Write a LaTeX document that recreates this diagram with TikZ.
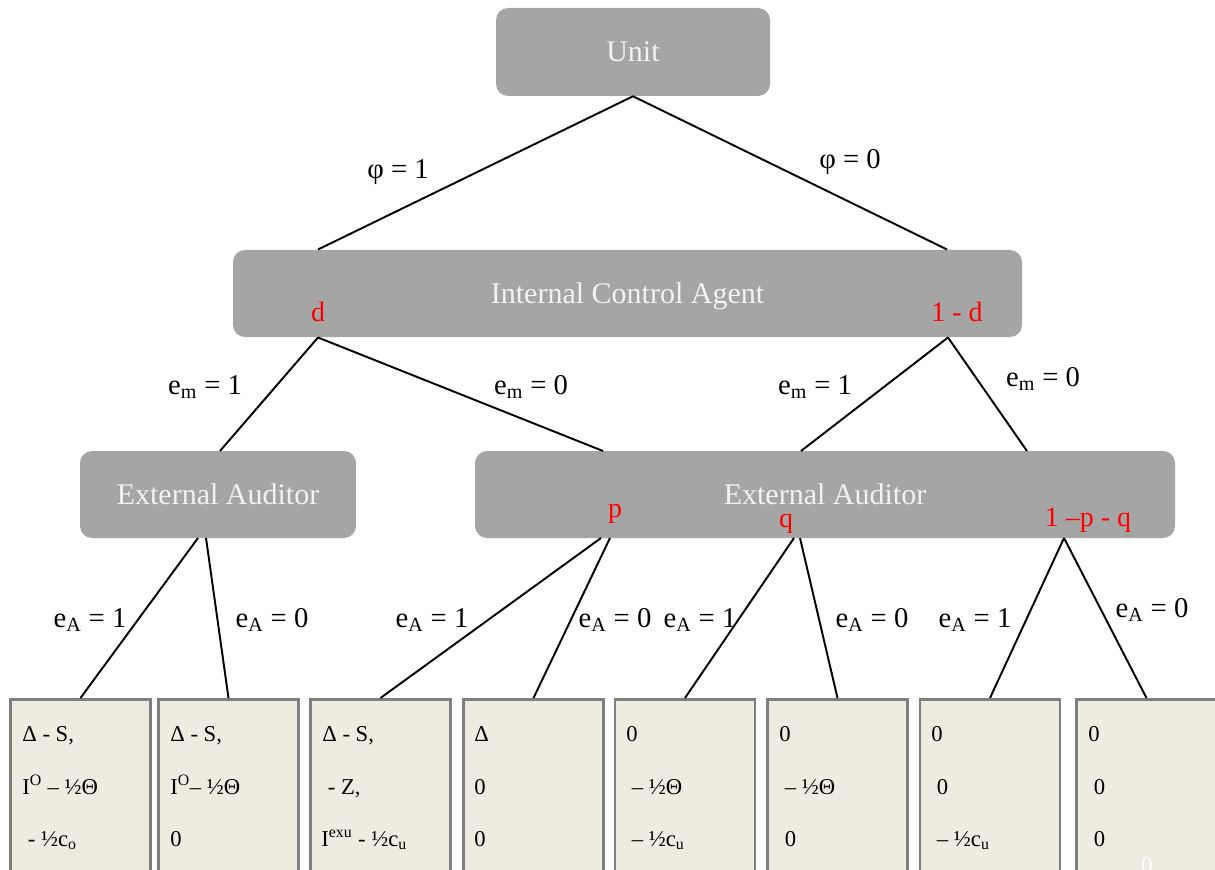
\documentclass[tikz,border=0pt]{standalone}
\usepackage{fontspec}
\setmainfont{Liberation Serif}
\usetikzlibrary{calc}
\definecolor{boxgray}{HTML}{A5A5A5}
\definecolor{leafbg}{HTML}{EEEBE0}
\definecolor{leafline}{HTML}{7F7F7F}

\begin{document}
\begin{tikzpicture}[x=0.75pt,y=-0.75pt,
    player/.style={fill=boxgray,rounded corners=9pt,text=white!95!black,inner sep=0pt,font=\fontsize{22.5}{26}\selectfont},
    leaf/.style={draw=leafline,fill=leafbg,line width=2pt,anchor=north,minimum width=105pt,minimum height=150pt,inner sep=0pt},
    lbl/.style={font=\fontsize{21.5}{25}\selectfont},
    prob/.style={text=red,anchor=base,inner sep=0pt,font=\fontsize{21}{25}\selectfont},
    pay/.style={anchor=base west,inner sep=0pt,font=\fontsize{17}{20}\selectfont},
    branch/.style={line width=1.45pt}]
    \path[use as bounding box,clip] (0,0) rectangle (1215,870);

    % players
    \node[player,minimum width=205.5pt,minimum height=66pt,text depth=-1.5pt] (unit) at (633,52) {Unit};
    \node[player,minimum width=591.75pt,minimum height=65.25pt,text depth=-2pt] (ica) at (627.5,293.5) {Internal Control Agent};
    \node[player,minimum width=207pt,minimum height=65.25pt,text depth=-1pt] (ea1) at (218,494.5) {External Auditor};
    \node[player,minimum width=525pt,minimum height=65.25pt,text depth=-1pt] (ea2) at (825,494.5) {External Auditor};

    % information sets
    \node[prob] (pd) at (318,321) {d};
    \node[prob] (pnd) at (957,321) {1 - d};
    \node[prob] (pp) at (615,517) {p};
    \node[prob] (pq) at (786,527) {q};
    \node[prob] (ppq) at (1088,526) {1 –p - q};

    % outcomes
    \foreach \n/\x in {1/80.5,2/228.5,3/380.5,4/533.5,5/685,6/837.5,7/990,8/1146.5}
        \node[leaf] (l\n) at (\x,698) {};

    % attachment points
    \coordinate (ica-in-l) at (318,249.5);
    \coordinate (ica-in-r) at (947,249.5);
    \coordinate (ica-out-l) at (318,337.5);
    \coordinate (ica-out-r) at (948,337.5);
    \coordinate (ea1-in) at (220,451);
    \coordinate (ea1-out-l) at (198,538);
    \coordinate (ea1-out-r) at (206,538);
    \coordinate (ea2-in-p) at (603,451);
    \coordinate (ea2-in-q) at (801,451);
    \coordinate (ea2-in-r) at (1027,451);
    \coordinate (ea2-p-l) at (601,538);
    \coordinate (ea2-p-r) at (610,538);
    \coordinate (ea2-q-l) at (794,538);
    \coordinate (ea2-q-r) at (800,538);
    \coordinate (ea2-r) at (1064,538);

    \draw[branch] (unit.south) -- (ica-in-l);
    \draw[branch] (unit.south) -- (ica-in-r);
    \draw[branch] (ica-out-l) -- (ea1-in);
    \draw[branch] (ica-out-l) -- (ea2-in-p);
    \draw[branch] (ica-out-r) -- (ea2-in-q);
    \draw[branch] (ica-out-r) -- (ea2-in-r);
    \draw[branch] (ea1-out-l) -- (l1.north);
    \draw[branch] (ea1-out-r) -- (l2.north);
    \draw[branch] (ea2-p-l) -- (l3.north);
    \draw[branch] (ea2-p-r) -- (l4.north);
    \draw[branch] (ea2-q-l) -- (l5.north);
    \draw[branch] (ea2-q-r) -- (l6.north);
    \draw[branch] (ea2-r) -- (l7.north);
    \draw[branch] (ea2-r) -- (l8.north);

    % branch labels
    \node[lbl] (phi1) at (398,172) {φ = 1};
    \node[lbl] (phi0) at (850,162) {φ = 0};
    \node[lbl] (em1a) at (205,387) {e\textsubscript{m} = 1};
    \node[lbl] (em0a) at (531,387) {e\textsubscript{m} = 0};
    \node[lbl] (em1b) at (815,387) {e\textsubscript{m} = 1};
    \node[lbl] (em0b) at (1043,379) {e\textsubscript{m} = 0};
    \node[lbl] (ea1a) at (90,620) {e\textsubscript{A} = 1};
    \node[lbl] (ea0a) at (272,620) {e\textsubscript{A} = 0};
    \node[lbl] (ea1b) at (432,620) {e\textsubscript{A} = 1};
    \node[lbl] (ea0b) at (615,620) {e\textsubscript{A} = 0};
    \node[lbl] (ea1c) at (700,620) {e\textsubscript{A} = 1};
    \node[lbl] (ea0c) at (872,620) {e\textsubscript{A} = 0};
    \node[lbl] (ea1d) at (975,620) {e\textsubscript{A} = 1};
    \node[lbl] (ea0d) at (1152,610) {e\textsubscript{A} = 0};

    % payoffs
    \node[pay] (p1a) at (22,741) {Δ - S,};
    \node[pay] (p1b) at (22,794) {I\textsuperscript{O} – ½Θ};
    \node[pay] (p1c) at (22,846) {\ - ½c\textsubscript{o}};
    \node[pay] (p2a) at (170,741) {Δ - S,};
    \node[pay] (p2b) at (170,794) {I\textsuperscript{O}– ½Θ};
    \node[pay] (p2c) at (170,846) {0};
    \node[pay] (p3a) at (322,741) {Δ - S,};
    \node[pay] (p3b) at (322,794) {\ - Z,};
    \node[pay] (p3c) at (321,846) {I\textsuperscript{exu} - ½c\textsubscript{u}};
    \node[pay] (p4a) at (474,741) {Δ};
    \node[pay] (p4b) at (474,794) {0};
    \node[pay] (p4c) at (474,846) {0};
    \node[pay] (p5a) at (626,741) {0};
    \node[pay] (p5b) at (626,794) {\ – ½Θ};
    \node[pay] (p5c) at (626,846) {\ – ½c\textsubscript{u}};
    \node[pay] (p6a) at (779,741) {0};
    \node[pay] (p6b) at (779,794) {\ – ½Θ};
    \node[pay] (p6c) at (779,846) {\ 0};
    \node[pay] (p7a) at (931,741) {0};
    \node[pay] (p7b) at (931,794) {\ 0};
    \node[pay] (p7c) at (931,846) {\ – ½c\textsubscript{u}};
    \node[pay] (p8a) at (1088,741) {0};
    \node[pay] (p8b) at (1088,794) {\ 0};
    \node[pay] (p8c) at (1088,846) {\ 0};
    \node[pay,text=white] (p8d) at (1141,872) {0};
\end{tikzpicture}
\end{document}
